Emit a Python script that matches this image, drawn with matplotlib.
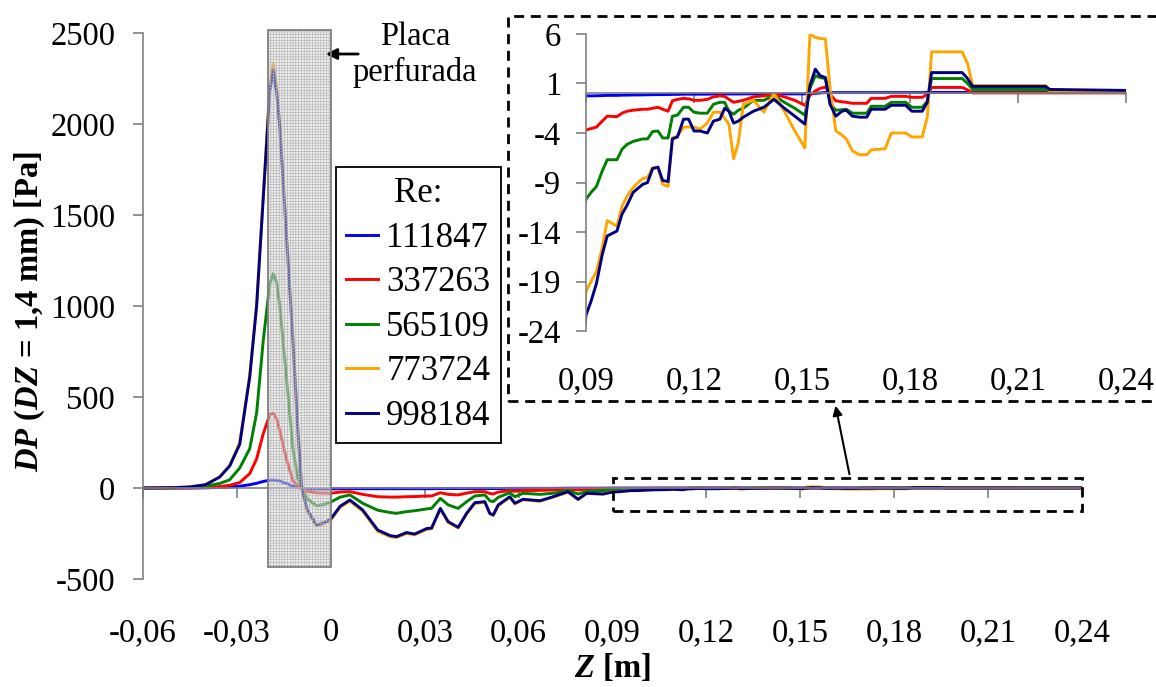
import matplotlib
matplotlib.use('Agg')
import matplotlib.pyplot as plt
from matplotlib.patches import Rectangle

plt.rcParams['font.family'] = ['Liberation Serif', 'DejaVu Serif']
plt.rcParams['mathtext.fontset'] = 'custom'
plt.rcParams['mathtext.rm'] = 'Liberation Serif:bold'
plt.rcParams['mathtext.it'] = 'Liberation Serif:italic:bold'
plt.rcParams['mathtext.bf'] = 'Liberation Serif:bold'
plt.rcParams['hatch.linewidth'] = 0.4

# ---------------- data ----------------
z_main = [-0.060, -0.050, -0.045, -0.040, -0.0355, -0.0323, -0.0291, -0.0259, -0.0237, -0.0216,
          -0.0195, -0.0184, -0.0173, -0.0163, -0.0142, -0.0121, -0.0105, -0.0093, -0.0075, -0.0046,
          -0.0020, 0.0000, 0.0030, 0.0061, 0.0102, 0.0150, 0.0190, 0.0210, 0.0242, 0.0268,
          0.0306, 0.0322, 0.0350, 0.0375, 0.0407, 0.0434, 0.0460, 0.0492, 0.0508, 0.0519,
          0.0535, 0.0572, 0.0588, 0.0614, 0.0668, 0.0710, 0.0758, 0.0790, 0.0817, 0.0870]
z_inset = [0.0900, 0.0914, 0.0929, 0.0945, 0.0959, 0.0986, 0.1000, 0.1014, 0.1031, 0.1057,
           0.1071, 0.1085, 0.1100, 0.1113, 0.1128, 0.1140, 0.1154, 0.1171, 0.1185, 0.1200,
           0.1217, 0.1237, 0.1254, 0.1272, 0.1285, 0.1297, 0.1310, 0.1323, 0.1337, 0.1365,
           0.1394, 0.1422, 0.1451, 0.1480, 0.1508, 0.1522, 0.1537, 0.1550, 0.1565, 0.1578,
           0.1594, 0.1611, 0.1623, 0.1640, 0.1660, 0.1680, 0.1692, 0.1731, 0.1748, 0.1788,
           0.1805, 0.1834, 0.1848, 0.1860, 0.1945, 0.1960, 0.1974, 0.2177, 0.2188, 0.2400]

re_labels = ['111847', '337263', '565109', '773724', '998184']

dp_111847 = [0, 0, 0, 1, 3, 5, 10, 18, 26, 36,
             43, 44, 42, 38, 25, 10, 3, 0, -3, -5,
             -5, -5, -4, -4, -4, -4, -4, -4, -4, -4,
             -4, -4, -3, -3, -3, -3, -3, -3, -3, -3,
             -3, -2, -2, -2, -2, -2, -1, -1, -1, -1,
             -0.25, -0.25, -0.24, -0.22, -0.20, -0.20, -0.18, -0.17, -0.16, -0.15,
             -0.14, -0.13, -0.12, -0.12, -0.12, -0.10, -0.10, -0.08, -0.08, -0.08,
             -0.08, -0.08, -0.06, -0.06, -0.06, -0.06, -0.06, -0.06, -0.05, -0.05,
             -0.05, -0.05, -0.05, -0.05, -0.05, -0.02, 0.00, 0.05, 0.08, 0.08,
             0.08, 0.08, 0.08, 0.08, 0.08, 0.08, 0.08, 0.08, 0.08, 0.08,
             0.08, 0.08, 0.10, 0.10, 0.10, 0.10, 0.10, 0.15, 0.20, 0.30]

dp_337263 = [0, 0, 1, 3, 8, 15, 30, 79, 160, 297,
             403, 412, 380, 315, 160, 40, 10, 0, -18, -27,
             -28, -29, -22, -20, -35, -48, -50, -50, -48, -47,
             -44, -44, -26, -35, -38, -28, -20, -20, -30, -33,
             -22, -15, -18, -15, -13, -11, -7, -10, -7, -6,
             -3.7, -3.55, -3.4, -2.8, -2.3, -2.35, -2.0, -1.8, -1.7, -1.6,
             -1.6, -1.5, -1.4, -1.6, -1.8, -0.75, -0.6, -0.5, -0.55, -0.7,
             -0.7, -0.6, -0.35, -0.25, -0.3, -0.6, -0.9, -0.8, -0.7, -0.35,
             -0.25, -0.1, -0.35, -0.7, -1.2, -0.2, 0.25, 0.5, 0.65, -0.1,
             -0.75, -0.85, -0.9, -1.0, -1.0, -1.0, -0.5, -0.5, -0.3, -0.3,
             -0.4, -0.4, -0.1, 0.6, 0.6, 0.35, 0.05, 0.05, 0.05, 0.05]

dp_565109 = [0, 1, 3, 10, 25, 45, 110, 216, 412, 807,
             1121, 1178, 1130, 1000, 610, 216, 50, 0, -60, -97,
             -90, -77, -50, -38, -84, -122, -135, -139, -130, -125,
             -115, -112, -57, -93, -112, -75, -44, -38, -70, -75,
             -51, -26, -48, -29, -35, -29, -15, -33, -20, -15,
             -10.7, -10.0, -9.4, -7.85, -6.7, -6.7, -5.65, -5.15, -4.85, -4.6,
             -4.6, -3.85, -3.8, -4.5, -4.5, -2.3, -2.2, -1.4, -1.4, -1.9,
             -2.0, -2.0, -1.1, -0.9, -0.9, -1.8, -2.1, -1.7, -1.5, -0.7,
             -0.7, -0.2, -0.9, -1.5, -2.2, 0.5, 1.8, 1.6, 1.5, -1.0,
             -1.7, -1.65, -1.6, -2.0, -2.0, -2.0, -1.3, -1.3, -0.9, -0.9,
             -1.4, -1.4, -0.8, 1.5, 1.5, 1.0, 0.4, 0.4, 0.2, 0.2]

dp_773724 = [0, 2, 6, 19, 62, 125, 250, 620, 1010, 1600,
             2200, 2335, 2200, 1995, 1400, 810, 315, 0, -125, -208,
             -195, -176, -106, -72, -128, -238, -268, -272, -250, -257,
             -228, -224, -116, -190, -220, -143, -85, -79, -143, -152,
             -97, -51, -87, -65, -73, -51, -23, -64, -31, -33,
             -20.0, -19.0, -18.0, -15.6, -12.85, -13.4, -11.4, -10.4, -9.5, -8.6,
             -8.5, -7.5, -7.45, -9.2, -9.4, -4.5, -4.3, -3.4, -3.4, -3.4,
             -3.6, -3.0, -1.9, -1.9, -2.5, -3.1, -6.6, -5.0, -1.1, -0.7,
             -1.9, 0.0, -1.8, -3.8, -5.5, 6.0, 5.66, 5.55, 5.5, 0.5,
             -3.8, -4.2, -4.6, -5.8, -6.2, -6.2, -5.7, -5.6, -4.0, -4.0,
             -4.4, -4.4, -2.4, 4.2, 4.2, 3.0, 0.8, 0.8, 0.3, 0.2]

dp_998184 = [0, 2, 6, 18, 60, 121, 240, 610, 1000, 1588,
             2180, 2297, 2170, 1984, 1396, 807, 313, 0, -120, -203,
             -190, -170, -100, -66, -121, -231, -262, -267, -245, -253,
             -223, -220, -112, -185, -216, -139, -81, -75, -139, -148,
             -93, -48, -84, -62, -70, -48, -20, -62, -29, -33,
             -22.4, -21.0, -19.2, -16.3, -14.4, -13.9, -12.2, -11.3, -10.0, -9.2,
             -9.0, -7.6, -7.45, -8.8, -8.9, -4.6, -4.4, -2.6, -2.6, -3.8,
             -3.8, -4.0, -2.8, -2.6, -1.5, -1.8, -3.0, -2.8, -2.4, -1.8,
             -1.4, -0.6, -1.5, -2.3, -3.1, 0.8, 2.45, 1.8, 1.6, -1.1,
             -2.3, -1.8, -1.7, -2.3, -2.4, -2.4, -1.6, -1.6, -1.2, -1.2,
             -1.8, -1.8, -0.9, 2.1, 2.1, 1.5, 0.7, 0.7, 0.4, 0.3]

z = z_main + z_inset
series = [dp_111847, dp_337263, dp_565109, dp_773724, dp_998184]
colors = ['#0000FF', '#FF0000', '#008000', '#FFA500', '#000080']

main_xticks = [-0.06, -0.03, 0.0, 0.03, 0.06, 0.09, 0.12, 0.15, 0.18, 0.21, 0.24]
main_xlabels = ['-0,06', '-0,03', '0', '0,03', '0,06', '0,09', '0,12', '0,15', '0,18', '0,21', '0,24']
main_yticks = [-500, 0, 500, 1000, 1500, 2000, 2500]
main_ylabels = ['-500', '0', '500', '1000', '1500', '2000', '2500']
inset_xticks = [0.09, 0.12, 0.15, 0.18, 0.21, 0.24]
inset_xlabels = ['0,09', '0,12', '0,15', '0,18', '0,21', '0,24']
inset_yticks = [-24, -19, -14, -9, -4, 1, 6]
inset_ylabels = ['-24', '-19', '-14', '-9', '-4', '1', '6']

# ---------------- layout ----------------
W, H = 1156, 687
FS = 23.5
LFS = 25
GRAY = '#808080'
fig = plt.figure(figsize=(W / 100, H / 100), dpi=100)


def fx(px):
    return px / W


def fy(py):
    return 1 - py / H


def style_axes(a, xt, xl, yt, yl, xpad, ypad):
    for s in ('top', 'right'):
        a.spines[s].set_visible(False)
    a.spines['left'].set_color(GRAY)
    a.spines['bottom'].set_color(GRAY)
    a.spines['left'].set_linewidth(1.2)
    a.spines['bottom'].set_linewidth(1.2)
    a.spines['bottom'].set_position(('data', 0))
    a.set_xticks(xt)
    a.tick_params(axis='x', direction='out', length=7, width=1.2, color=GRAY, labelbottom=False)
    a.set_yticks(yt, labels=yl)
    a.tick_params(axis='y', direction='out', length=7, width=1.2, color=GRAY, pad=ypad, labelsize=FS)
    sec = a.secondary_xaxis('bottom')
    sec.set_xticks(xt, labels=xl)
    sec.tick_params(length=0, pad=xpad, labelsize=FS)
    sec.spines['bottom'].set_visible(False)


ax = fig.add_axes([fx(143), fy(579), fx(1082) - fx(143), fy(33) - fy(579)])
ax.set_xlim(-0.06, 0.24)
ax.set_ylim(-500, 2500)
ax.set_facecolor('none')
style_axes(ax, main_xticks, main_xlabels, main_yticks, main_ylabels, 28, 13)

lines = []
for vals, c, lab in zip(series, colors, re_labels):
    ln, = ax.plot(z, vals, color=c, lw=2.1, label=lab, zorder=2)
    lines.append(ln)

# perforated plate region
ax.add_patch(Rectangle((-0.020, -434), 0.020, 2950, facecolor=(0.86, 0.86, 0.86, 0.45),
                       edgecolor='#b0b0b0', hatch='++++++', lw=0, zorder=3, clip_on=False))
ax.add_patch(Rectangle((-0.020, -434), 0.020, 2950, fill=False, edgecolor='#7f7f7f',
                       lw=1.3, zorder=3.1, clip_on=False))

# small dashed box for zoom region
ax.add_patch(Rectangle((0.09, -125), 0.15, 180, fill=False, edgecolor='black', lw=2,
                       ls=(0, (3.6, 2.4)), zorder=4, clip_on=False))

leg = ax.legend(handles=lines, labels=re_labels, title='Re:', loc='upper left',
                bbox_to_anchor=(fx(336), fy(167)), bbox_transform=fig.transFigure,
                borderaxespad=0, frameon=True, fancybox=False, edgecolor='black',
                fontsize=LFS, title_fontsize=LFS, handlelength=0.9, handletextpad=0.25,
                labelspacing=0.33, borderpad=0.3, framealpha=1)
leg.get_frame().set_linewidth(1.3)
leg.set_zorder(6)

# axis labels
fig.text(fx(30), fy(312), r'$\mathit{DP}$ ($\mathit{DZ}$ = 1,4 mm) [Pa]', rotation=90,
         ha='center', va='center', fontsize=FS, fontweight='bold')
fig.text(fx(612), fy(668), r'$\mathit{Z}$ [m]', ha='center', va='center',
         fontsize=FS, fontweight='bold')

# annotation: Placa perfurada
fig.text(fx(415), fy(55), 'Placa\nperfurada', ha='center', va='center', fontsize=FS)
ax.annotate('', xy=(fx(323), fy(54)), xytext=(fx(361), fy(54)), xycoords='figure fraction',
            textcoords='figure fraction',
            arrowprops=dict(arrowstyle='-|>', color='black', lw=2, mutation_scale=16))

# ---------------- inset ----------------
ax2 = fig.add_axes([fx(586), fy(331), fx(1126) - fx(586), fy(34) - fy(331)])
ax2.set_xlim(0.09, 0.24)
ax2.set_ylim(-24, 6)
ax2.set_facecolor('none')
style_axes(ax2, inset_xticks, inset_xlabels, inset_yticks, inset_ylabels, 25, 11)
for vals, c in zip(series, colors):
    ax2.plot(z, vals, color=c, lw=2.1, zorder=2)

# dashed frame around inset
fig.add_artist(Rectangle((fx(508), fy(401)), fx(1170) - fx(508), fy(16) - fy(401),
                         transform=fig.transFigure, fill=False, edgecolor='black', lw=2,
                         ls=(0, (3.6, 2.4)), clip_on=False))
# arrow from small box to inset
ax.annotate('', xy=(fx(835), fy(403)), xytext=(fx(850), fy(477)), xycoords='figure fraction',
            textcoords='figure fraction',
            arrowprops=dict(arrowstyle='-|>', color='black', lw=1.5, mutation_scale=14))

fig.savefig('out.png', dpi=100)
